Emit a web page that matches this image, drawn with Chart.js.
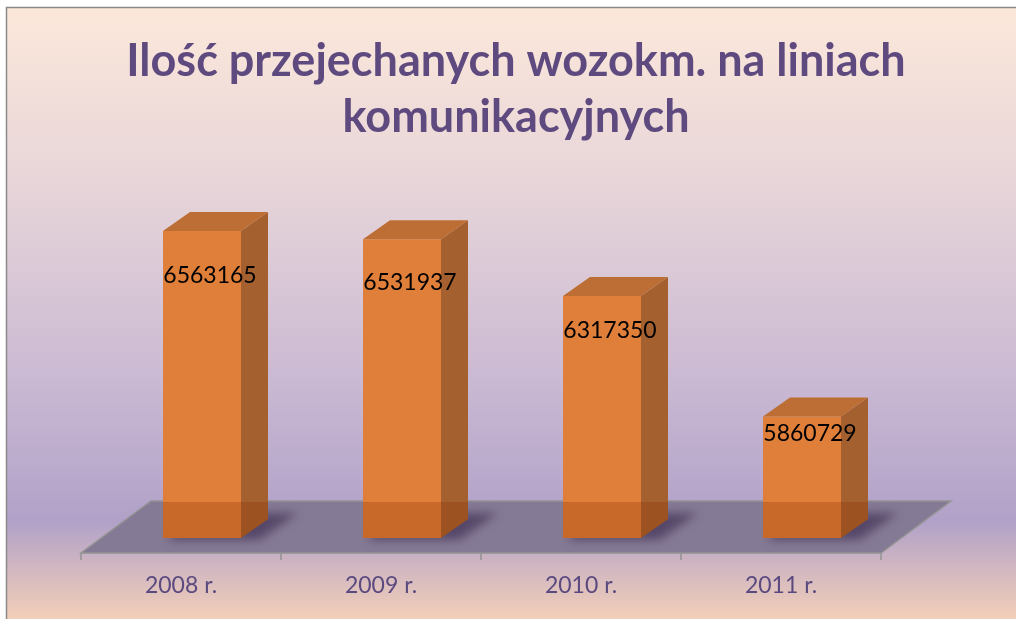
<!DOCTYPE html>
<html>
<head>
<meta charset="utf-8">
<script src="https://cdn.jsdelivr.net/npm/chart.js@4.4.1/dist/chart.umd.min.js"></script>
<style>
  html, body { margin: 0; padding: 0; background: #ffffff; }
  #wrap { width: 1016px; height: 619px; position: relative; }
</style>
</head>
<body>
<div id="wrap"><canvas id="c" width="1016" height="619"></canvas></div>
<script>
const titleLines = ["Ilość przejechanych wozokm. na liniach", "komunikacyjnych"];
const categories = ["2008 r.", "2009 r.", "2010 r.", "2011 r."];
const values = [6563165, 6531937, 6317350, 5860729];
const axisMin = 5400000;
const axisMax = 6800000;

const DX = 27, DY = -19;           // bar depth projection
const FLOOR_FRONT = 15, FLOOR_BACK = -37, FLOOR_SHIFT_F = -21, FLOOR_SHIFT_B = 49;

const bgPlugin = {
  id: 'bg',
  beforeDraw(chart) {
    const ctx = chart.ctx;
    const W = chart.width, H = chart.height;
    ctx.save();
    ctx.fillStyle = '#ffffff';
    ctx.fillRect(0, 0, W, H);
    const g = ctx.createLinearGradient(0, 8, 0, H);
    g.addColorStop(0, '#fce8da');
    g.addColorStop(0.3, '#e6d4d9');
    g.addColorStop(0.6, '#cbbad3');
    g.addColorStop(0.84, '#b1a1c8');
    g.addColorStop(1, '#f3cfb8');
    ctx.fillStyle = g;
    ctx.fillRect(7, 8, W - 7, H - 8);
    ctx.strokeStyle = '#8a8a8a';
    ctx.lineWidth = 1.5;
    ctx.beginPath();
    ctx.moveTo(6.5, H);
    ctx.lineTo(6.5, 7.5);
    ctx.lineTo(W, 7.5);
    ctx.stroke();
    ctx.restore();
  },
  beforeDatasetsDraw(chart) {
    const ctx = chart.ctx;
    const a = chart.chartArea;
    const B = a.bottom;
    ctx.save();
    ctx.beginPath();
    ctx.moveTo(a.left + FLOOR_SHIFT_F, B + FLOOR_FRONT);
    ctx.lineTo(a.right + FLOOR_SHIFT_F, B + FLOOR_FRONT);
    ctx.lineTo(a.right + FLOOR_SHIFT_B, B + FLOOR_BACK);
    ctx.lineTo(a.left + FLOOR_SHIFT_B, B + FLOOR_BACK);
    ctx.closePath();
    ctx.fillStyle = '#857a95';
    ctx.fill();
    ctx.strokeStyle = '#939393';
    ctx.lineWidth = 1.5;
    ctx.stroke();
    // tick marks on front edge
    const n = chart.data.labels.length;
    const step = (a.right - a.left) / n;
    ctx.beginPath();
    for (let i = 0; i <= n; i++) {
      const x = a.left + FLOOR_SHIFT_F + i * step;
      ctx.moveTo(x, B + FLOOR_FRONT);
      ctx.lineTo(x, B + FLOOR_FRONT + 7);
    }
    ctx.stroke();
    // shadows under bars
    const meta = chart.getDatasetMeta(0);
    meta.data.forEach(bar => {
      const l = bar.x - bar.width / 2, r = bar.x + bar.width / 2;
      ctx.save();
      ctx.filter = 'blur(5px)';
      ctx.fillStyle = 'rgba(70,55,90,0.75)';
      ctx.beginPath();
      ctx.moveTo(l + 4, B + 2);
      ctx.lineTo(r + 18, B + 2);
      ctx.lineTo(r + DX + 30, B + DY - 6);
      ctx.lineTo(l + DX, B + DY - 6);
      ctx.closePath();
      ctx.fill();
      ctx.restore();
    });
    ctx.restore();
  },
  afterDatasetsDraw(chart) {
    const ctx = chart.ctx;
    const a = chart.chartArea;
    const B = a.bottom;
    const floorBackY = B + FLOOR_BACK;
    const meta = chart.getDatasetMeta(0);
    ctx.save();
    meta.data.forEach((bar, i) => {
      const l = bar.x - bar.width / 2, r = bar.x + bar.width / 2;
      const top = bar.y, base = bar.base;
      // side face
      ctx.beginPath();
      ctx.moveTo(r, top);
      ctx.lineTo(r + DX, top + DY);
      ctx.lineTo(r + DX, base + DY);
      ctx.lineTo(r, base);
      ctx.closePath();
      ctx.fillStyle = '#a4602f';
      ctx.fill();
      // top face
      ctx.beginPath();
      ctx.moveTo(l, top);
      ctx.lineTo(l + DX, top + DY);
      ctx.lineTo(r + DX, top + DY);
      ctx.lineTo(r, top);
      ctx.closePath();
      ctx.fillStyle = '#bc6e35';
      ctx.fill();
      // darker part below the floor back edge
      ctx.save();
      ctx.beginPath();
      ctx.rect(l, floorBackY + 1, (r + DX) - l, base - floorBackY);
      ctx.clip();
      ctx.beginPath();
      ctx.moveTo(l, base);
      ctx.lineTo(l, top);
      ctx.lineTo(r, top);
      ctx.lineTo(r + DX, top + DY);
      ctx.lineTo(r + DX, base + DY);
      ctx.lineTo(r, base);
      ctx.closePath();
      ctx.fillStyle = 'rgba(140,50,0,0.28)';
      ctx.fill();
      ctx.restore();
      // value label
      const v = chart.data.datasets[0].data[i];
      ctx.fillStyle = '#000000';
      ctx.font = '23px Lato';
      ctx.textAlign = 'center';
      ctx.textBaseline = 'middle';
      const ly = base - 0.855 * (base - top);
      ctx.fillText(String(v), bar.x + 8, ly);
    });
    ctx.restore();
  }
};

new Chart(document.getElementById('c'), {
  type: 'bar',
  data: {
    labels: categories,
    datasets: [{
      data: values,
      base: axisMin,
      backgroundColor: '#df7f3a',
      borderWidth: 0,
      barPercentage: 0.39,
      categoryPercentage: 1.0
    }]
  },
  options: {
    responsive: false,
    animation: false,
    events: [],
    layout: { padding: { left: 16, right: 0, top: 0, bottom: 0 } },
    plugins: {
      legend: { display: false },
      tooltip: { enabled: false },
      title: {
        display: true,
        text: titleLines,
        color: '#5e4a7e',
        font: { family: 'Lato', size: 45, weight: 'bold', lineHeight: 1.24 },
        padding: { top: 34, bottom: 23 }
      }
    },
    scales: {
      x: {
        grid: { display: false },
        border: { display: false },
        ticks: {
          color: '#5b4a80',
          font: { family: 'Lato', size: 23 },
          padding: 26,
          labelOffset: -21
        },
        afterFit(s) { s.height = 81; }
      },
      y: {
        position: 'left',
        min: axisMin,
        max: axisMax,
        grid: { display: false },
        border: { display: false },
        ticks: { display: false },
        afterFit(s) { s.width = 86; }
      },
      y2: {
        position: 'right',
        display: true,
        min: 0, max: 1,
        grid: { display: false },
        border: { display: false },
        ticks: { display: false },
        afterFit(s) { s.width = 114; }
      }
    }
  },
  plugins: [bgPlugin]
});
</script>
</body>
</html>
